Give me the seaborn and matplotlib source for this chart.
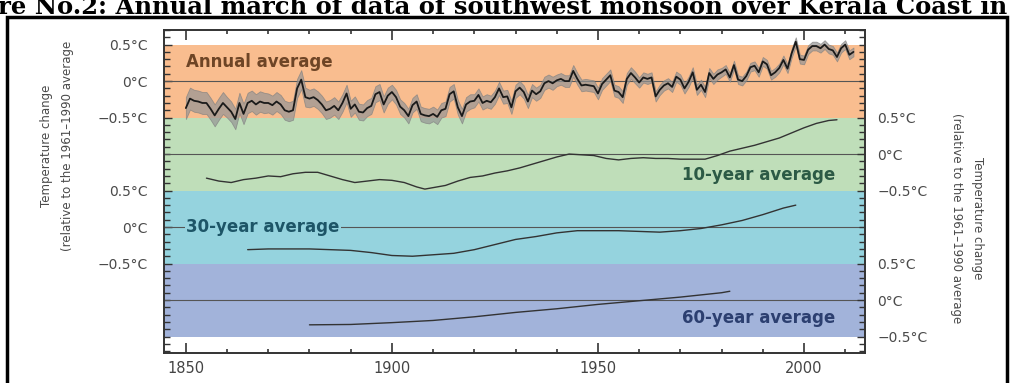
import matplotlib

matplotlib.use("Agg")
import matplotlib.pyplot as plt
import numpy as np
import pandas as pd
import seaborn as sns
from matplotlib.patches import Rectangle

# Annual global temperature anomaly (degC vs 1961-1990).
ANNUAL_YEARS = np.arange(1850, 2013)
ANNUAL_VALUES = [
    -0.37, -0.24, -0.27, -0.28, -0.30, -0.30, -0.38, -0.47, -0.38, -0.30,  # 1850s
    -0.36, -0.42, -0.52, -0.30, -0.45, -0.30, -0.27, -0.32, -0.28, -0.30,  # 1860s
    -0.30, -0.33, -0.28, -0.32, -0.40, -0.42, -0.40, -0.10, 0.02, -0.22,  # 1870s
    -0.24, -0.22, -0.26, -0.32, -0.40, -0.38, -0.34, -0.40, -0.30, -0.17,  # 1880s
    -0.38, -0.32, -0.42, -0.43, -0.37, -0.34, -0.18, -0.15, -0.32, -0.20,  # 1890s
    -0.15, -0.22, -0.35, -0.40, -0.48, -0.33, -0.28, -0.45, -0.47, -0.48,  # 1900s
    -0.45, -0.49, -0.40, -0.38, -0.18, -0.14, -0.36, -0.48, -0.32, -0.28,  # 1910s
    -0.27, -0.19, -0.30, -0.27, -0.29, -0.22, -0.10, -0.22, -0.21, -0.36,  # 1920s
    -0.14, -0.09, -0.15, -0.28, -0.13, -0.18, -0.14, -0.03, 0.00, -0.03,  # 1930s
    0.01, 0.03, 0.00, 0.00, 0.14, 0.03, -0.06, -0.05, -0.06, -0.07,  # 1940s
    -0.17, -0.04, 0.02, 0.08, -0.13, -0.15, -0.22, 0.03, 0.11, 0.05,  # 1950s
    -0.02, 0.05, 0.03, 0.05, -0.21, -0.12, -0.06, -0.03, -0.08, 0.06,  # 1960s
    0.02, -0.10, -0.01, 0.12, -0.12, -0.05, -0.15, 0.11, 0.03, 0.09,  # 1970s
    0.12, 0.16, 0.05, 0.22, 0.02, 0.00, 0.07, 0.19, 0.21, 0.12,  # 1980s
    0.27, 0.23, 0.08, 0.12, 0.18, 0.29, 0.17, 0.38, 0.54, 0.30,  # 1990s
    0.29, 0.43, 0.48, 0.48, 0.45, 0.50, 0.44, 0.42, 0.33, 0.45,  # 2000s
    0.50, 0.36, 0.40,  # 2010s
]
# Half-width of the grey uncertainty band, one value per decade.
DECADE_UNCERTAINTY = [0.15, 0.14, 0.13, 0.12, 0.11, 0.10, 0.10, 0.09, 0.09,
                      0.08, 0.08, 0.07, 0.07, 0.06, 0.06, 0.06, 0.06]

TEN_YEARS = [1855, 1858, 1861, 1864, 1867, 1870, 1873, 1876, 1879, 1882, 1885,
             1888, 1891, 1894, 1897, 1900, 1903, 1906, 1908, 1910, 1913, 1916,
             1919, 1922, 1925, 1928, 1931, 1934, 1937, 1940, 1943, 1946, 1949,
             1952, 1955, 1958, 1961, 1964, 1967, 1970, 1973, 1976, 1979, 1982,
             1985, 1988, 1991, 1994, 1997, 2000, 2003, 2006, 2008]
TEN_VALUES = [-0.33, -0.37, -0.39, -0.35, -0.33, -0.30, -0.31, -0.27, -0.25,
              -0.25, -0.30, -0.35, -0.39, -0.37, -0.35, -0.36, -0.39, -0.45,
              -0.48, -0.46, -0.43, -0.37, -0.32, -0.30, -0.26, -0.23, -0.19,
              -0.14, -0.09, -0.04, 0.00, -0.01, -0.02, -0.06, -0.08, -0.06,
              -0.05, -0.06, -0.06, -0.07, -0.07, -0.07, -0.02, 0.04, 0.08,
              0.12, 0.17, 0.22, 0.29, 0.36, 0.42, 0.46, 0.47]

THIRTY_YEARS = [1865, 1870, 1875, 1880, 1885, 1890, 1895, 1900, 1905, 1910,
                1915, 1920, 1925, 1930, 1935, 1940, 1945, 1950, 1955, 1960,
                1965, 1970, 1975, 1980, 1985, 1990, 1995, 1998]
THIRTY_VALUES = [-0.31, -0.30, -0.30, -0.30, -0.31, -0.32, -0.35, -0.39, -0.40,
                 -0.38, -0.36, -0.31, -0.24, -0.17, -0.13, -0.08, -0.05, -0.05,
                 -0.05, -0.06, -0.07, -0.05, -0.02, 0.03, 0.09, 0.17, 0.26, 0.30]

SIXTY_YEARS = [1880, 1890, 1900, 1910, 1920, 1930, 1940, 1950, 1960, 1970,
               1980, 1982]
SIXTY_VALUES = [-0.34, -0.335, -0.31, -0.28, -0.23, -0.17, -0.12, -0.06,
                -0.01, 0.04, 0.10, 0.12]

PANEL_LABELS = ["Annual average", "10-year average", "30-year average", "60-year average"]
PANEL_COLORS = ["#f9bd8f", "#bfdeb9", "#95d3de", "#a2b3da"]
LABEL_COLORS = ["#6e4526", "#2c5a45", "#1d5567", "#2c3f70"]
# Each panel is stacked 1 degC below the previous one.
PANEL_OFFSETS = [0.0, -1.0, -2.0, -3.0]

TICK_TEXT = ["0.5°C", "0°C", "−0.5°C"]
TITLE = "re No.2: Annual march of data of southwest monsoon over Kerala Coast in"
YLABEL = "Temperature change\n(relative to the 1961–1990 average"

W, H = 1012, 383

sns.set_theme(style="white")
plt.rcParams["font.family"] = ["DejaVu Sans"]

fig = plt.figure(figsize=(W / 100, H / 100), dpi=100)
ax = fig.add_axes([164 / W, 1 - 353 / H, (865 - 164) / W, (353 - 30) / H])

for offset, color in zip(PANEL_OFFSETS, PANEL_COLORS):
    ax.axhspan(offset - 0.5, offset + 0.5, color=color, lw=0, zorder=0)
    ax.axhline(offset, color="#555555", lw=0.8, zorder=1)

# Annual series with uncertainty band
annual = pd.DataFrame({"year": ANNUAL_YEARS, "anomaly": ANNUAL_VALUES})
half = np.repeat(DECADE_UNCERTAINTY, 10)[: len(annual)]
ax.fill_between(annual["year"], annual["anomaly"] - half, annual["anomaly"] + half,
                color="#959595", alpha=0.7, lw=0.6, edgecolor="#808080", zorder=2)
sns.lineplot(data=annual, x="year", y="anomaly", color="#1a1a1a", lw=1.3, ax=ax, zorder=3)

for years, values, offset in [
    (TEN_YEARS, TEN_VALUES, PANEL_OFFSETS[1]),
    (THIRTY_YEARS, THIRTY_VALUES, PANEL_OFFSETS[2]),
    (SIXTY_YEARS, SIXTY_VALUES, PANEL_OFFSETS[3]),
]:
    sns.lineplot(x=years, y=np.array(values) + offset, color="#333333", lw=1.0,
                 ax=ax, zorder=3)

label_style = dict(fontsize=12, fontweight="bold", va="center", zorder=4)
ax.text(1850, 0.26, PANEL_LABELS[0], color=LABEL_COLORS[0], ha="left", **label_style)
ax.text(2007.5, -1.29, PANEL_LABELS[1], color=LABEL_COLORS[1], ha="right", **label_style)
ax.text(1850, -2.0, PANEL_LABELS[2], color=LABEL_COLORS[2], ha="left",
        bbox=dict(facecolor=PANEL_COLORS[2], edgecolor="none", pad=1), **label_style)
ax.text(2007.5, -3.25, PANEL_LABELS[3], color=LABEL_COLORS[3], ha="right", **label_style)

ax.set_xlim(1844.7, 2014.8)
ax.set_ylim(-3.726, 0.699)
ax.set_xlabel("")
ax.set_ylabel("")

ax.set_xticks([1850, 1900, 1950, 2000])
ax.set_xticks(np.arange(1860, 2011, 10), minor=True)
ax.tick_params(axis="x", which="both", direction="in", top=True, bottom=True,
               colors="#333333", labelcolor="#444444", labelsize=10.5, pad=6)
ax.tick_params(axis="x", which="major", length=7, width=1.2)
ax.tick_params(axis="x", which="minor", length=3, width=1.2)

minor_y = np.arange(-3.7, 0.71, 0.1)
twin = ax.twinx()
twin.set_ylim(ax.get_ylim())
ax.set_yticks([0.5, 0.0, -0.5, -1.5, -2.0, -2.5], TICK_TEXT * 2)
twin.set_yticks([-0.5, -1.0, -1.5, -2.5, -3.0, -3.5], TICK_TEXT * 2)
for a, side in [(ax, "left"), (twin, "right")]:
    a.set_yticks(minor_y, minor=True)
    a.tick_params(axis="y", which="both", direction="in", colors="#333333",
                  labelcolor="#4a4a4a", labelsize=10, width=1.0,
                  left=side == "left", right=side == "right",
                  labelleft=side == "left", labelright=side == "right")
    a.tick_params(axis="y", which="major", length=6, pad=12 if side == "left" else 9)
    a.tick_params(axis="y", which="minor", length=4)

for a in (ax, twin):
    for spine in a.spines.values():
        spine.set_color("#333333")
        spine.set_linewidth(1.2)

fig.text(57 / W, 1 - 146 / H, YLABEL, rotation=90, ha="center", va="center",
         multialignment="center", fontsize=8.5, color="#4a4a4a", linespacing=1.75)
fig.text(967 / W, 1 - 218 / H, YLABEL, rotation=270, ha="center", va="center",
         multialignment="center", fontsize=8.5, color="#4a4a4a", linespacing=1.75)

fig.text(-2 / W, 1 - 14 / H, TITLE, ha="left", va="baseline", fontsize=17.5,
         fontweight="bold", family="DejaVu Serif", color="black")

fig.add_artist(Rectangle((7 / W, -0.05), 1000 / W, 1.05 - 17.5 / H,
                         transform=fig.transFigure, fill=False, lw=2.5,
                         edgecolor="black"))

fig.savefig("out.png", dpi=100)
